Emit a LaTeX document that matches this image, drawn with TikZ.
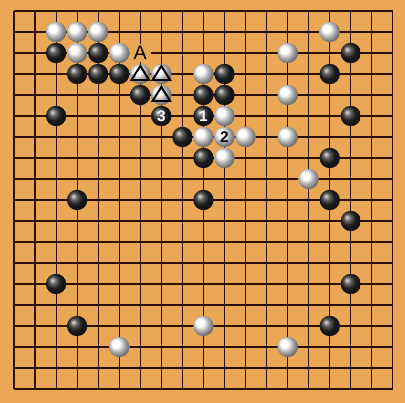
\documentclass[tikz,border=0pt]{standalone}
\usepackage{fontspec}
\setmainfont{Liberation Sans}
\definecolor{board}{RGB}{234,168,86}
\definecolor{gridline}{RGB}{45,15,5}

\tikzset{
  stone/.style={circle, minimum size=0.51cm, inner sep=0pt, font=\fontsize{11}{11}\selectfont\bfseries},
  bstone/.style={stone, ball color=black!85, text=white},
  wstone/.style={stone, ball color=white, text=black},
  tri/.style={draw=black, line width=1.4pt, line join=miter}
}

\begin{document}
\begin{tikzpicture}[x=0.5263cm, y=-0.525cm]
        \fill[board] (-0.665,-0.524) rectangle (18.575,18.667);
        \useasboundingbox (-0.665,-0.524) rectangle (18.575,18.667);

        % grid
        \foreach \i in {0,...,18} {
            \draw[gridline, line width=0.8pt] (\i,0) -- (\i,18);
            \draw[gridline, line width=0.8pt] (0,\i) -- (18,\i);
        }

        % label A sits on the empty point
        \node[fill=board, minimum width=0.54cm, minimum height=0.46cm, inner sep=0pt, font=\fontsize{14}{14}\selectfont] (A) at (6,2) {A};

        % white stones
        \foreach \c/\r in {2/1,3/1,4/1,3/2,5/2,6/3,7/3,7/4,9/3,15/1,13/2,13/4,10/5,9/6,11/6,13/6,10/7,14/8,9/15,5/16,13/16}
            \node[wstone] (w\c-\r) at (\c,\r) {};

        % black stones
        \foreach \c/\r in {2/2,4/2,3/3,4/3,5/3,6/4,2/5,8/6,9/4,10/3,10/4,9/7,3/9,9/9,15/9,16/2,15/3,16/5,15/7,16/10,2/13,16/13,3/15,15/15}
            \node[bstone] (b\c-\r) at (\c,\r) {};

        % numbered moves
        \node[bstone] (m1) at (9,5) {1};
        \node[wstone] (m2) at (10,6) {2};
        \node[bstone] (m3) at (7,5) {3};

        % triangle marks
        \foreach \s in {w6-3,w7-3,w7-4}
            \draw[tri] ([yshift=0.2cm]\s.center) -- ([shift={(-0.22cm,-0.15cm)}]\s.center) -- ([shift={(0.22cm,-0.15cm)}]\s.center) -- cycle;
    \end{tikzpicture}
\end{document}
